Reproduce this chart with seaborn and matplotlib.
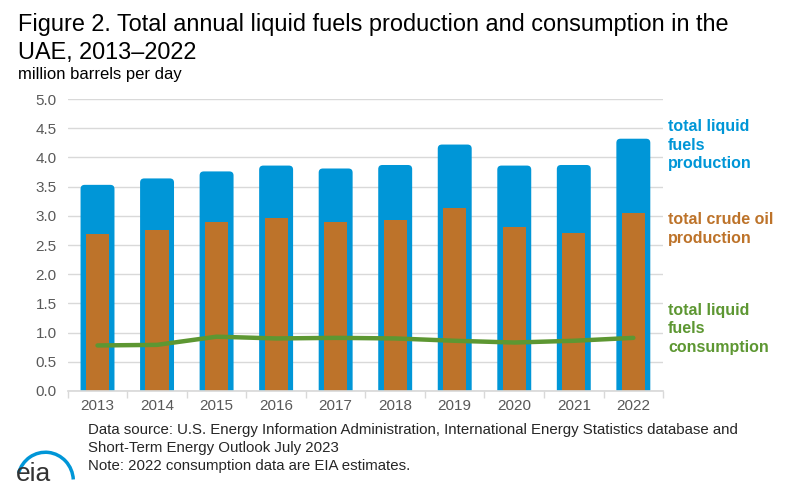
import matplotlib.pyplot as plt
import numpy as np
import pandas as pd
import seaborn as sns
from matplotlib.patches import Arc, FancyBboxPatch

sns.set_theme(style="white")
plt.rcParams['font.family'] = ['Liberation Sans', 'DejaVu Sans']

years = ['2013', '2014', '2015', '2016', '2017', '2018', '2019', '2020', '2021', '2022']
liquids_prod = [3.53, 3.64, 3.76, 3.86, 3.81, 3.87, 4.22, 3.86, 3.87, 4.32]
crude_prod = [2.69, 2.76, 2.90, 2.97, 2.90, 2.93, 3.14, 2.80, 2.71, 3.05]
consumption = [0.78, 0.79, 0.93, 0.90, 0.91, 0.90, 0.86, 0.83, 0.86, 0.91]

blue = '#0096D7'
orange = '#BD732A'
green = '#5D9732'
grey = '#595959'

df = pd.DataFrame({'year': years, 'liquids': liquids_prod,
                   'crude': crude_prod, 'cons': consumption})
df['pos'] = np.arange(len(df))

fig = plt.figure(figsize=(7.97, 5.0), dpi=100)
ax = fig.add_axes([0.085, 0.218, 0.747, 0.584])

sns.barplot(data=df, x='year', y='liquids', color=blue, width=0.57,
            saturation=1, linewidth=0, ax=ax, zorder=2)

# give the blue bars rounded tops, like the original
for p in list(ax.patches):
    x, w, h = p.get_x(), p.get_width(), p.get_height()
    p.set_visible(False)
    ax.add_patch(FancyBboxPatch((x, -0.2), w, h + 0.2,
                                boxstyle='round,pad=0,rounding_size=0.07',
                                mutation_aspect=1.0, facecolor=blue,
                                linewidth=0, zorder=2, clip_on=True))

sns.barplot(data=df, x='year', y='crude', color=orange, width=0.39,
            saturation=1, linewidth=0, ax=ax, zorder=3)
sns.lineplot(data=df, x='pos', y='cons', color=green, linewidth=3.2,
             ax=ax, zorder=4)

ax.set_xlim(-0.5, 9.5)
ax.set_ylim(0, 5.0)
ax.set_yticks(np.arange(0, 5.01, 0.5))
ax.set_yticklabels(['{:.1f}'.format(v) for v in np.arange(0, 5.01, 0.5)])
ax.yaxis.grid(True, color='#D9D9D9', linewidth=1)
ax.set_axisbelow(True)
ax.set_xlabel('')
ax.set_ylabel('')
for s in ['top', 'right', 'left']:
    ax.spines[s].set_visible(False)
ax.spines['bottom'].set_color('#D9D9D9')
ax.spines['bottom'].set_zorder(5)
ax.set_xticks(np.arange(10))
ax.set_xticklabels(years)
ax.set_xticks(np.arange(-0.5, 10, 1), minor=True)
ax.tick_params(axis='x', which='major', length=0, pad=6, labelsize=11, labelcolor=grey)
ax.tick_params(axis='x', which='minor', length=5, color='#D9D9D9', bottom=True)
ax.tick_params(axis='y', length=0, pad=8, labelsize=11, labelcolor=grey)

fig.text(0.022, 1 - 31 / 500, 'Figure 2. Total annual liquid fuels production and consumption in the',
         fontsize=16.9, va='baseline', ha='left', color='black')
fig.text(0.022, 1 - 59 / 500, 'UAE, 2013\u20132022',
         fontsize=16.9, va='baseline', ha='left', color='black')
fig.text(0.022, 1 - 79 / 500, 'million barrels per day', fontsize=12, va='baseline', color='black')

fig.text(0.838, 0.762, 'total liquid\nfuels\nproduction', color=blue, fontsize=11.5,
         fontweight='bold', va='top', linespacing=1.3)
fig.text(0.838, 0.576, 'total crude oil\nproduction', color=orange, fontsize=11.5,
         fontweight='bold', va='top', linespacing=1.35)
fig.text(0.838, 0.395, 'total liquid\nfuels\nconsumption', color=green, fontsize=11.5,
         fontweight='bold', va='top', linespacing=1.3)

fig.text(0.11, 0.154, 'Data source: U.S. Energy Information Administration, International Energy Statistics database and\n'
         'Short-Term Energy Outlook July 2023\nNote: 2022 consumption data are EIA estimates.',
         fontsize=10.8, va='top', color='#262626', linespacing=1.36)

fig.text(0.02, 0.028, 'eia', fontsize=19, color='#333333', va='bottom', ha='left')
arc = Arc((0.057, 0.038), 0.07, 0.115, theta1=5, theta2=155, transform=fig.transFigure,
          color=blue, linewidth=2.5)
fig.add_artist(arc)

fig.savefig('out.png', dpi=100)
